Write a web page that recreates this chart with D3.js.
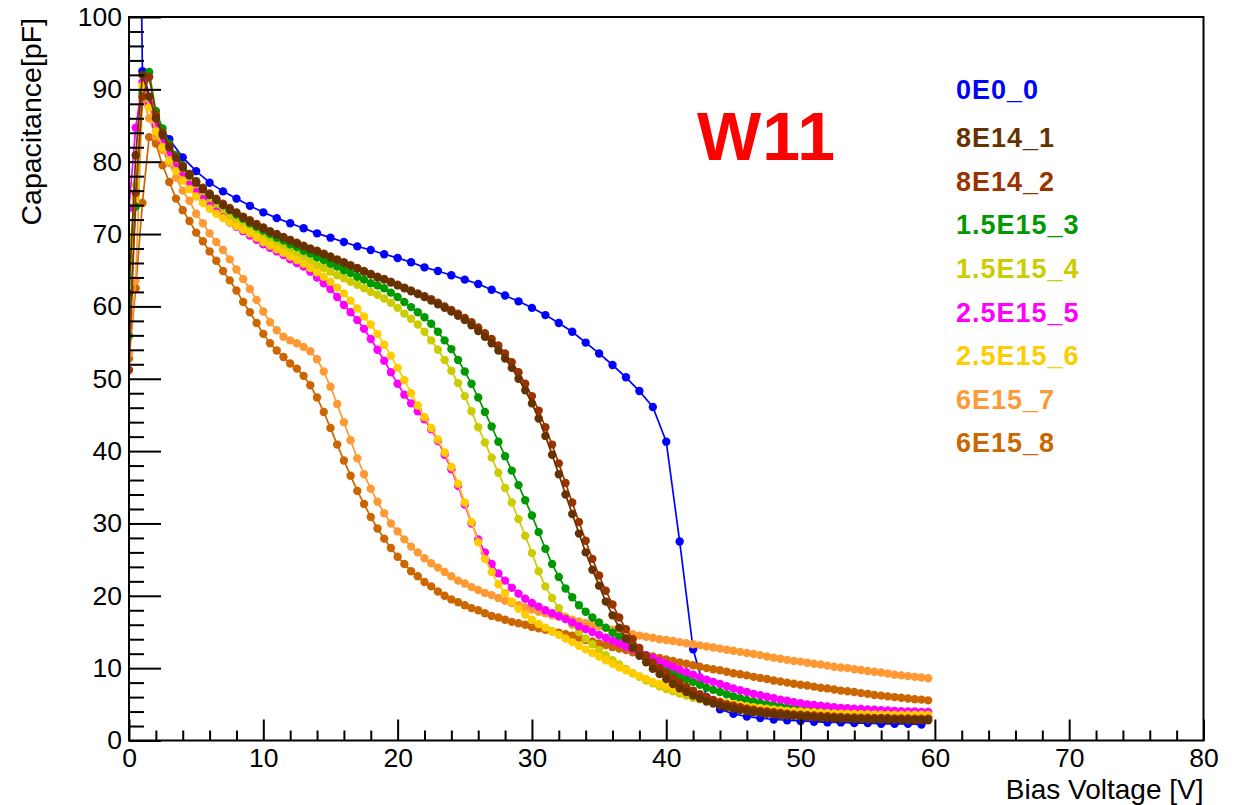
<!DOCTYPE html>
<html>
<head>
<meta charset="utf-8">
<script src="https://cdn.jsdelivr.net/npm/d3@7"></script>
<style>
  html, body { margin: 0; padding: 0; background: #ffffff; }
  svg { display: block; font-family: "Liberation Sans", Arial, Helvetica, sans-serif; }
</style>
</head>
<body>
<svg id="chart" width="1243" height="805"></svg>
<script>
// Bias voltage grids [V]
const biasHalfStep = [
  0, 0.5, 1, 1.5, 2, 2.5, 3, 3.5, 4, 4.5, 5, 5.5, 6, 6.5, 7, 7.5, 8, 8.5, 9, 9.5,
  10, 10.5, 11, 11.5, 12, 12.5, 13, 13.5, 14, 14.5, 15, 15.5, 16, 16.5, 17, 17.5, 18, 18.5, 19, 19.5,
  20, 20.5, 21, 21.5, 22, 22.5, 23, 23.5, 24, 24.5, 25, 25.5, 26, 26.5, 27, 27.5, 28, 28.5, 29, 29.5,
  30, 30.5, 31, 31.5, 32, 32.5, 33, 33.5, 34, 34.5, 35, 35.5, 36, 36.5, 37, 37.5, 38, 38.5, 39, 39.5,
  40, 40.5, 41, 41.5, 42, 42.5, 43, 43.5, 44, 44.5, 45, 45.5, 46, 46.5, 47, 47.5, 48, 48.5, 49, 49.5,
  50, 50.5, 51, 51.5, 52, 52.5, 53, 53.5, 54, 54.5, 55, 55.5, 56, 56.5, 57, 57.5, 58, 58.5, 59, 59.5
];
const biasFullStep = [
  0, 1, 2, 3, 4, 5, 6, 7, 8, 9, 10, 11, 12, 13, 14, 15, 16, 17, 18, 19,
  20, 21, 22, 23, 24, 25, 26, 27, 28, 29, 30, 31, 32, 33, 34, 35, 36, 37, 38, 39,
  40, 41, 42, 43, 44, 45, 46, 47, 48, 49, 50, 51, 52, 53, 54, 55, 56, 57, 58, 59
];

// Capacitance [pF] per sample
const cap_0E0_0 = [
  230, 92.5, 86.0, 83.1, 80.6, 78.7, 77.1, 75.9, 74.9, 73.9, 73.0, 72.2, 71.5, 70.8, 70.1, 69.5, 68.9, 68.3, 67.8, 67.2,
  66.7, 66.1, 65.4, 64.9, 64.3, 63.7, 63.1, 62.3, 61.5, 60.7, 59.8, 58.8, 57.7, 56.5, 55.0, 53.5, 51.9, 50.2, 48.3, 46.1,
  41.3, 27.5, 12.6, 6.0, 4.3, 3.7, 3.3, 3.1, 2.9, 2.8, 2.7, 2.6, 2.5, 2.5, 2.4, 2.4, 2.3, 2.3, 2.3, 2.2
];
const cap_8E14_1 = [
  61.8, 80.9, 92.0, 89.0, 86.0, 83.7, 82.0, 80.5, 79.2, 78.1, 77.1, 76.2, 75.4, 74.7, 74.0, 73.4, 72.9, 72.3, 71.7, 71.2, 70.8,
  70.3, 69.9, 69.5, 69.1, 68.7, 68.3, 67.9, 67.6, 67.2, 66.8, 66.4, 66.0, 65.6, 65.2, 64.8, 64.4, 64.0, 63.7, 63.3, 62.9,
  62.5, 62.1, 61.7, 61.3, 60.8, 60.3, 59.8, 59.3, 58.7, 58.1, 57.4, 56.6, 55.8, 54.9, 53.9, 52.8, 51.5, 50.0, 48.4, 46.6,
  44.5, 42.1, 39.5, 36.8, 34.0, 31.3, 28.6, 26.0, 23.6, 21.4, 19.2, 17.3, 15.6, 14.1, 12.8, 11.7, 10.8, 9.9, 9.2, 8.5,
  7.8, 7.2, 6.7, 6.2, 5.8, 5.4, 5.1, 4.8, 4.6, 4.4, 4.2, 4.05, 3.9, 3.8, 3.7, 3.6, 3.5, 3.45, 3.4, 3.3,
  3.25, 3.2, 3.15, 3.1, 3.05, 3.0, 3.0, 2.95, 2.95, 2.9, 2.9, 2.9, 2.85, 2.85, 2.85, 2.8, 2.8, 2.8, 2.8
];
const cap_8E14_2 = [
  51.2, 75.7, 89.0, 91.7, 86.5, 84.0, 82.2, 80.7, 79.4, 78.3, 77.3, 76.4, 75.6, 74.9, 74.2, 73.6, 73.0, 72.4, 71.9, 71.4, 70.9,
  70.4, 70.0, 69.6, 69.2, 68.8, 68.4, 68.0, 67.7, 67.3, 66.9, 66.5, 66.1, 65.7, 65.3, 64.9, 64.5, 64.1, 63.8, 63.4, 63.0,
  62.6, 62.2, 61.8, 61.4, 61.0, 60.5, 60.0, 59.5, 59.0, 58.4, 57.8, 57.1, 56.3, 55.5, 54.6, 53.5, 52.3, 50.9, 49.3, 47.6,
  45.6, 43.3, 40.9, 38.3, 35.6, 32.9, 30.2, 27.6, 25.1, 22.8, 20.7, 18.8, 17.0, 15.4, 14.0, 12.8, 11.7, 10.8, 10.0, 9.3,
  8.6, 8.0, 7.4, 6.9, 6.4, 6.0, 5.6, 5.3, 5.0, 4.8, 4.6, 4.4, 4.25, 4.1, 4.0, 3.9, 3.8, 3.7, 3.6, 3.55,
  3.5, 3.45, 3.4, 3.35, 3.3, 3.25, 3.2, 3.2, 3.15, 3.15, 3.1, 3.1, 3.1, 3.05, 3.05, 3.05, 3.0, 3.0, 3.0
];
const cap_1_5E15_3 = [
  55.9, 73.8, 89.5, 92.4, 87.0, 84.6, 82.5, 80.9, 79.5, 78.3, 77.3, 76.3, 75.5, 74.7, 74.0, 73.3, 72.7, 72.1, 71.5, 71.0, 70.5,
  70.0, 69.5, 69.1, 68.6, 68.2, 67.7, 67.3, 66.8, 66.4, 65.9, 65.5, 65.0, 64.6, 64.1, 63.7, 63.2, 62.9, 62.5, 61.9, 61.3,
  60.6, 59.9, 59.2, 58.5, 57.6, 56.5, 55.3, 54.1, 52.6, 51.0, 49.3, 47.4, 45.4, 43.4, 41.3, 39.3, 37.3, 35.3, 33.2, 31.1,
  28.8, 26.5, 24.4, 22.6, 21.0, 19.8, 18.7, 17.8, 17.0, 16.3, 15.6, 14.9, 14.3, 13.6, 13.0, 12.3, 11.7, 11.1, 10.5, 10.0,
  9.4, 8.9, 8.5, 8.1, 7.7, 7.3, 7.0, 6.7, 6.4, 6.1, 5.85, 5.6, 5.4, 5.2, 5.0, 4.85, 4.7, 4.55, 4.45, 4.35,
  4.25, 4.15, 4.05, 4.0, 3.9, 3.85, 3.8, 3.75, 3.7, 3.65, 3.6, 3.55, 3.5, 3.5, 3.45, 3.4, 3.4, 3.35, 3.35
];
const cap_1_5E15_4 = [
  61.2, 76.8, 90.0, 88.0, 85.5, 83.6, 81.9, 80.4, 79.0, 77.8, 76.7, 75.7, 74.8, 74.0, 73.3, 72.6, 71.9, 71.3, 70.7, 70.1, 69.6,
  69.1, 68.6, 68.1, 67.6, 67.1, 66.7, 66.2, 65.7, 65.3, 64.8, 64.3, 63.9, 63.4, 63.0, 62.5, 62.0, 61.6, 61.1, 60.5, 59.8,
  59.0, 58.3, 57.5, 56.5, 55.3, 54.0, 52.6, 51.1, 49.4, 47.6, 45.5, 43.3, 41.2, 39.1, 37.0, 34.9, 32.9, 30.6, 28.3, 25.9,
  23.4, 21.3, 19.7, 18.3, 17.1, 16.0, 15.0, 14.1, 13.3, 12.5, 11.8, 11.1, 10.5, 9.9, 9.3, 8.8, 8.3, 7.9, 7.5, 7.1,
  6.8, 6.5, 6.2, 5.9, 5.7, 5.5, 5.3, 5.1, 4.95, 4.8, 4.65, 4.5, 4.4, 4.3, 4.2, 4.1, 4.0, 3.95, 3.9, 3.8,
  3.75, 3.7, 3.65, 3.6, 3.55, 3.5, 3.47, 3.44, 3.41, 3.38, 3.35, 3.32, 3.3, 3.28, 3.26, 3.24, 3.22, 3.2, 3.2
];
const cap_2_5E15_5 = [
  73.6, 84.7, 91.0, 88.0, 85.0, 82.7, 80.9, 79.3, 78.0, 76.8, 75.8, 74.8, 73.9, 73.1, 72.3, 71.6, 71.0, 70.4, 69.8, 69.2, 68.6,
  68.1, 67.6, 67.1, 66.5, 66.0, 65.5, 64.8, 64.0, 63.2, 62.4, 61.3, 60.2, 59.2, 58.1, 56.9, 55.5, 54.0, 52.5, 50.9, 49.3,
  47.8, 46.6, 45.5, 44.4, 43.0, 41.4, 39.5, 37.5, 35.2, 32.6, 30.0, 27.8, 26.0, 24.4, 23.1, 22.1, 21.1, 20.3, 19.6, 19.0,
  18.5, 18.0, 17.6, 17.2, 16.8, 16.3, 15.8, 15.4, 15.0, 14.6, 14.2, 13.8, 13.4, 13.0, 12.6, 12.2, 11.8, 11.4, 11.0, 10.6,
  10.2, 9.8, 9.45, 9.1, 8.75, 8.4, 8.1, 7.8, 7.5, 7.2, 6.95, 6.7, 6.45, 6.25, 6.05, 5.85, 5.65, 5.5, 5.3, 5.15,
  5.0, 4.9, 4.8, 4.7, 4.6, 4.5, 4.45, 4.4, 4.35, 4.3, 4.25, 4.2, 4.15, 4.1, 4.05, 4.0, 4.0, 3.95, 3.95
];
const cap_2_5E15_6 = [
  67.6, 75.0, 90.5, 87.5, 84.2, 82.0, 80.2, 78.7, 77.4, 76.2, 75.2, 74.3, 73.5, 72.8, 72.2, 71.6, 71.1, 70.6, 70.1, 69.5, 68.9,
  68.4, 67.9, 67.4, 66.9, 66.4, 65.9, 65.3, 64.7, 64.1, 63.4, 62.6, 61.8, 60.8, 59.7, 58.6, 57.5, 56.2, 54.7, 53.2, 51.5,
  49.8, 48.0, 46.3, 44.7, 43.2, 41.6, 39.8, 37.8, 35.5, 32.9, 30.2, 27.4, 25.1, 23.3, 21.6, 20.4, 19.2, 18.2, 17.4, 16.7,
  16.1, 15.6, 15.1, 14.6, 14.1, 13.6, 13.1, 12.6, 12.1, 11.6, 11.1, 10.6, 10.1, 9.7, 9.3, 8.9, 8.5, 8.1, 7.8, 7.5,
  7.2, 6.9, 6.6, 6.3, 6.05, 5.8, 5.6, 5.4, 5.2, 5.05, 4.9, 4.75, 4.6, 4.5, 4.4, 4.3, 4.2, 4.1, 4.05, 4.0,
  3.95, 3.9, 3.85, 3.8, 3.75, 3.72, 3.7, 3.68, 3.65, 3.63, 3.6, 3.6, 3.58, 3.57, 3.56, 3.55, 3.55, 3.55, 3.55
];
const cap_6E15_7 = [
  53.5, 63.6, 88.7, 86.0, 83.5, 81.6, 79.8, 77.8, 76.0, 74.6, 72.8, 71.5, 70.1, 68.9, 67.8, 66.5, 65.1, 63.8, 62.4, 60.9, 59.3,
  57.8, 56.7, 55.8, 55.3, 54.9, 54.4, 53.8, 52.7, 51.0, 48.9, 46.5, 44.0, 41.5, 39.0, 36.8, 34.8, 33.0, 31.4, 30.0, 28.9,
  27.8, 26.8, 26.0, 25.2, 24.5, 23.9, 23.3, 22.7, 22.1, 21.7, 21.2, 20.8, 20.4, 20.1, 19.7, 19.3, 19.0, 18.7, 18.4, 18.1,
  17.8, 17.6, 17.3, 17.1, 16.9, 16.7, 16.45, 16.2, 16.0, 15.8, 15.55, 15.3, 15.1, 14.9, 14.7, 14.5, 14.35, 14.2, 14.0, 13.9,
  13.75, 13.6, 13.45, 13.3, 13.15, 13.0, 12.85, 12.7, 12.55, 12.4, 12.25, 12.1, 11.95, 11.8, 11.6, 11.45, 11.3, 11.15, 11.0, 10.9,
  10.75, 10.6, 10.5, 10.35, 10.2, 10.1, 10.0, 9.85, 9.75, 9.6, 9.5, 9.4, 9.25, 9.1, 9.0, 8.9, 8.8, 8.7, 8.6
];
const cap_6E15_8 = [
  52.8, 62.5, 74.3, 83.4, 82.5, 79.5, 77.2, 74.9, 73.3, 71.8, 70.2, 69.0, 67.6, 66.3, 64.9, 63.6, 62.2, 60.6, 59.2, 57.7, 56.2,
  54.9, 53.9, 53.0, 52.1, 51.4, 50.4, 49.1, 47.4, 45.4, 43.2, 40.9, 38.7, 36.6, 34.5, 32.7, 30.9, 29.3, 27.9, 26.6, 25.4,
  24.4, 23.4, 22.7, 21.9, 21.3, 20.6, 20.0, 19.5, 19.1, 18.7, 18.3, 18.0, 17.6, 17.2, 17.0, 16.7, 16.4, 16.2, 16.0, 15.7,
  15.5, 15.3, 15.1, 14.9, 14.7, 14.5, 14.2, 13.9, 13.7, 13.4, 13.2, 12.9, 12.7, 12.5, 12.2, 12.0, 11.8, 11.6, 11.4, 11.2,
  11.0, 10.8, 10.6, 10.4, 10.2, 10.0, 9.85, 9.7, 9.5, 9.3, 9.15, 9.0, 8.8, 8.65, 8.5, 8.3, 8.15, 8.0, 7.85, 7.7,
  7.6, 7.45, 7.3, 7.2, 7.05, 6.9, 6.8, 6.7, 6.55, 6.45, 6.3, 6.2, 6.1, 6.0, 5.9, 5.8, 5.7, 5.65, 5.55
];

const seriesNames  = ["0E0_0", "8E14_1", "8E14_2", "1.5E15_3", "1.5E15_4", "2.5E15_5", "2.5E15_6", "6E15_7", "6E15_8"];
const seriesColors = ["#0000ff", "#663300", "#993300", "#009900", "#cccc00", "#ff00ff", "#ffcc00", "#ff9933", "#cc6600"];
const seriesBias   = [biasFullStep, biasHalfStep, biasHalfStep, biasHalfStep, biasHalfStep, biasHalfStep, biasHalfStep, biasHalfStep, biasHalfStep];
const seriesCaps   = [cap_0E0_0, cap_8E14_1, cap_8E14_2, cap_1_5E15_3, cap_1_5E15_4, cap_2_5E15_5, cap_2_5E15_6, cap_6E15_7, cap_6E15_8];

const xTickLabels = ["0", "10", "20", "30", "40", "50", "60", "70", "80"];
const yTickLabels = ["0", "10", "20", "30", "40", "50", "60", "70", "80", "90", "100"];

const waferLabel = "W11";
const xTitle = "Bias Voltage [V]";
const yTitle = "Capacitance[pF]";

// ---- layout ----
const svg = d3.select("#chart");
const frame = { left: 129, right: 1203.5, top: 17, bottom: 740.5 };

const x = d3.scaleLinear().domain([0, 80]).range([frame.left, frame.right]);
const y = d3.scaleLinear().domain([0, 100]).range([frame.bottom, frame.top]);

svg.append("rect").attr("width", 1243).attr("height", 805).attr("fill", "#ffffff");

svg.append("defs").append("clipPath").attr("id", "plotClip")
  .append("rect")
  .attr("x", frame.left).attr("y", frame.top)
  .attr("width", frame.right - frame.left).attr("height", frame.bottom - frame.top);

// ---- curves ----
const plot = svg.append("g").attr("clip-path", "url(#plotClip)");
const drawOrder = [0, 8, 7, 4, 3, 5, 6, 2, 1];
const line = d3.line().x(d => x(d[0])).y(d => y(d[1]));

drawOrder.forEach(i => {
  const pts = seriesBias[i].map((v, k) => [v, seriesCaps[i][k]]);
  const g = plot.append("g");
  g.append("path")
    .attr("d", line(pts))
    .attr("fill", "none")
    .attr("stroke", seriesColors[i])
    .attr("stroke-width", 1.7);
  g.selectAll("circle").data(pts).join("circle")
    .attr("cx", d => x(d[0]))
    .attr("cy", d => y(d[1]))
    .attr("r", 4.2)
    .attr("fill", seriesColors[i]);
});

// ---- axes (ticks pointing into the frame) ----
const xMajor = xTickLabels.map(Number);
const yMajor = yTickLabels.map(Number);
const xMinor = d3.range(0, 81, 2).filter(v => v % 10 !== 0);
const yMinor = d3.range(0, 101, 2).filter(v => v % 10 !== 0);

const xAxisG = svg.append("g").attr("transform", `translate(0,${frame.bottom})`)
  .call(d3.axisBottom(x).tickValues(xMajor).tickFormat((d, i) => xTickLabels[i]).tickSize(-21).tickPadding(8));
const xMinorG = svg.append("g").attr("transform", `translate(0,${frame.bottom})`)
  .call(d3.axisBottom(x).tickValues(xMinor).tickFormat("").tickSize(-10));
const yAxisG = svg.append("g").attr("transform", `translate(${frame.left},0)`)
  .call(d3.axisLeft(y).tickValues(yMajor).tickFormat((d, i) => yTickLabels[i]).tickSize(-32).tickPadding(7));
const yMinorG = svg.append("g").attr("transform", `translate(${frame.left},0)`)
  .call(d3.axisLeft(y).tickValues(yMinor).tickFormat("").tickSize(-15));

[xAxisG, xMinorG, yAxisG, yMinorG].forEach(g => {
  g.select(".domain").remove();
  g.selectAll(".tick line").attr("stroke", "#000").attr("stroke-width", 2);
  g.selectAll(".tick text")
    .attr("fill", "#000")
    .style("font-size", "26.5px")
    .style("font-family", "'Liberation Sans', Arial, Helvetica, sans-serif");
});

// frame
svg.append("rect")
  .attr("x", frame.left).attr("y", frame.top)
  .attr("width", frame.right - frame.left).attr("height", frame.bottom - frame.top)
  .attr("fill", "none").attr("stroke", "#000").attr("stroke-width", 2);

// axis titles
svg.append("text")
  .attr("x", frame.right).attr("y", 799)
  .attr("text-anchor", "end")
  .style("font-size", "28px")
  .attr("fill", "#000")
  .text(xTitle);

svg.append("text")
  .attr("transform", `translate(41,${frame.top + 1}) rotate(-90)`)
  .attr("text-anchor", "end")
  .style("font-size", "28.5px")
  .attr("fill", "#000")
  .text(yTitle);

// wafer label
svg.append("text")
  .attr("x", 697).attr("y", 160)
  .style("font-size", "68px").style("font-weight", "bold")
  .style("letter-spacing", "1px")
  .attr("fill", "#ff0000")
  .text(waferLabel);

// legend
const legend = svg.append("g");
seriesNames.forEach((name, i) => {
  legend.append("text")
    .attr("x", 956)
    .attr("y", i === 0 ? 90 : 94.5 + i * 43.6)
    .attr("dominant-baseline", "central")
    .style("font-size", "27px").style("font-weight", "bold")
    .style("letter-spacing", "1px")
    .attr("fill", seriesColors[i])
    .text(name);
});
</script>
</body>
</html>
